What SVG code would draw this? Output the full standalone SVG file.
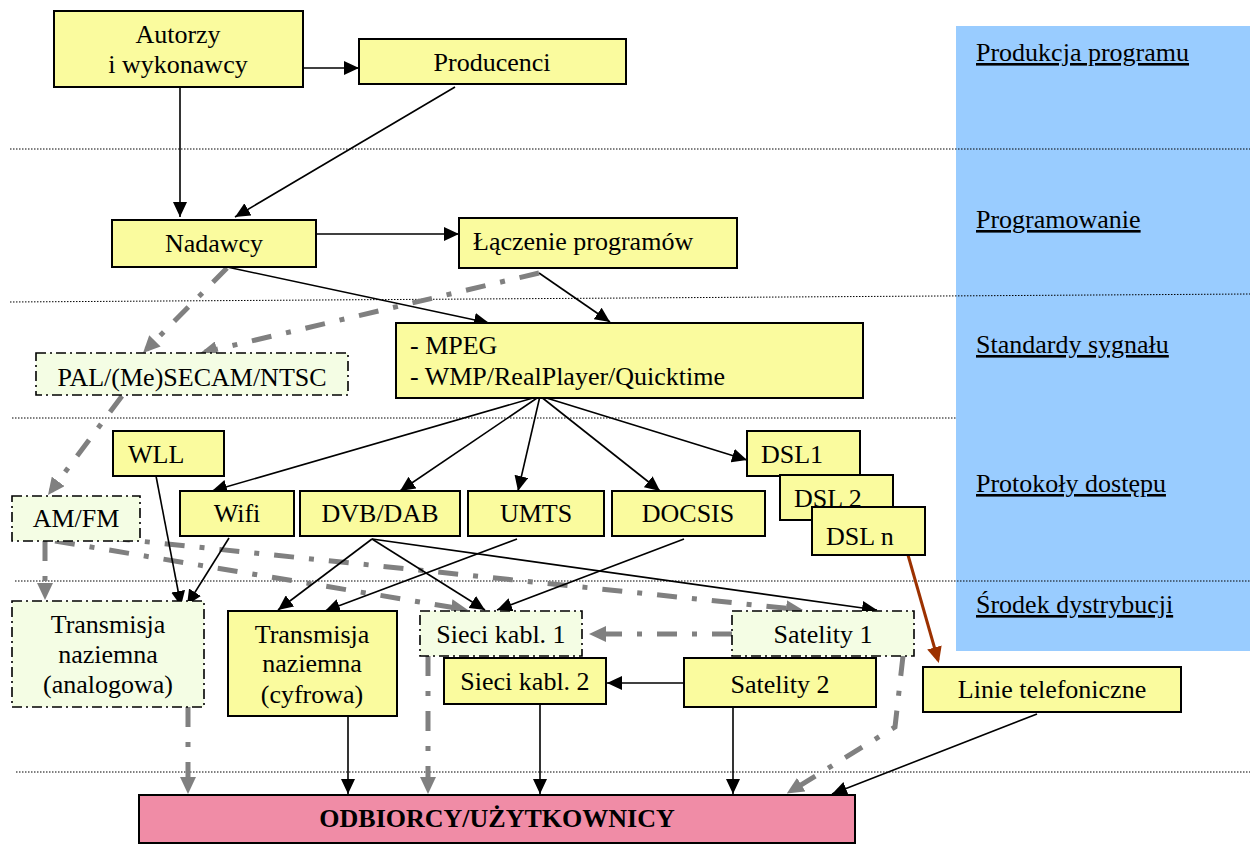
<svg xmlns="http://www.w3.org/2000/svg" width="1250" height="844" viewBox="0 0 1250 844">
<defs>
<marker id="ab" markerUnits="userSpaceOnUse" markerWidth="15" markerHeight="14" refX="15" refY="7" orient="auto"><path d="M0,0 L15,7 L0,14 z" fill="#000"/></marker>
<marker id="ag" markerUnits="userSpaceOnUse" markerWidth="17" markerHeight="16" refX="12" refY="8" orient="auto"><path d="M0,0 L17,8 L0,16 z" fill="#808080"/></marker>
<marker id="ar" markerUnits="userSpaceOnUse" markerWidth="16" markerHeight="15" refX="13" refY="7.5" orient="auto"><path d="M0,0 L16,7.5 L0,15 z" fill="#9C3100"/></marker>
</defs>
<style>
text{font-family:"Liberation Serif","Times New Roman",serif;font-size:26px;fill:#000}
.m{text-anchor:middle}
.y{fill:#FAFB9E;stroke:#000;stroke-width:2}
.g{fill:#F4FDE4;stroke:#000;stroke-width:1.6;stroke-dasharray:10 4 2 4}
.dot{stroke:#000;stroke-width:1;stroke-dasharray:1.5 1.5;fill:none}
.c{stroke:#000;stroke-width:1.6;fill:none;marker-end:url(#ab)}
.cg{stroke:#808080;stroke-width:5;fill:none;stroke-dasharray:20 15 5 15;marker-end:url(#ag)}
.lab{text-decoration:underline}
</style>
<rect width="1250" height="844" fill="#fff"/>
<g id="panel">
<rect x="956" y="26" width="294" height="625" fill="#99CCFF"/>
<text class="lab" x="976" y="61">Produkcja programu</text>
<text class="lab" x="976" y="228">Programowanie</text>
<text class="lab" x="976" y="353">Standardy sygnału</text>
<text class="lab" x="976" y="492">Protokoły dostępu</text>
<text class="lab" x="976" y="613">Środek dystrybucji</text>
</g>
<g id="grid">
<line class="dot" x1="10" y1="149" x2="1250" y2="149"/>
<line class="dot" x1="10" y1="302" x2="1250" y2="294"/>
<line class="dot" x1="12" y1="418" x2="956" y2="418"/>
<line class="dot" x1="15" y1="581" x2="1250" y2="581"/>
<line class="dot" x1="16" y1="772" x2="1250" y2="772"/>
</g>
<g id="connectors">
<line class="c" x1="303" y1="68" x2="359" y2="68"/>
<line class="c" x1="180" y1="82" x2="180" y2="217"/>
<line class="c" x1="455" y1="87" x2="235" y2="217"/>
<line class="c" x1="316" y1="234" x2="459" y2="234"/>
<line class="c" x1="227" y1="267" x2="489" y2="323"/>
<line class="c" x1="539" y1="273" x2="610" y2="322"/>
<line class="cg" x1="539" y1="273" x2="205" y2="352"/>
<line class="cg" x1="227" y1="268" x2="146.5" y2="349.4"/>
<line class="cg" x1="122" y1="396" x2="51" y2="491"/>
<line class="cg" x1="45" y1="541" x2="45" y2="595"/>
<line class="cg" x1="55" y1="541" x2="463" y2="609.2"/>
<line class="cg" x1="110" y1="538" x2="798" y2="609.5"/>
<line class="c" x1="540" y1="396" x2="212" y2="491"/>
<line class="c" x1="540" y1="396" x2="400" y2="491"/>
<line class="c" x1="540" y1="396" x2="518" y2="491"/>
<line class="c" x1="540" y1="396" x2="660" y2="491"/>
<line class="c" x1="540" y1="396" x2="747" y2="460"/>
<line class="c" x1="156" y1="476" x2="181" y2="606"/>
<line class="c" x1="229" y1="538" x2="187" y2="605"/>
<line class="c" x1="372" y1="539" x2="278" y2="610"/>
<line class="c" x1="517" y1="539" x2="325" y2="611"/>
<line class="c" x1="372" y1="539" x2="485" y2="610"/>
<line class="c" x1="684" y1="539" x2="497" y2="610"/>
<line class="c" x1="372" y1="539" x2="877" y2="610"/>
<line x1="908" y1="555" x2="938" y2="660" stroke="#9C3100" stroke-width="3" marker-end="url(#ar)"/>
<line class="cg" x1="732" y1="634" x2="594" y2="634"/>
<line class="c" x1="684" y1="683" x2="607" y2="683"/>
<line class="cg" x1="188" y1="707" x2="188" y2="789"/>
<line class="cg" x1="428" y1="656" x2="428" y2="789"/>
<path class="cg" d="M903,656 L895,727 L791,791"/>
<line class="c" x1="348" y1="716" x2="348" y2="794"/>
<line class="c" x1="540" y1="704" x2="540" y2="794"/>
<line class="c" x1="733" y1="707" x2="733" y2="794"/>
<line class="c" x1="1037" y1="714" x2="832" y2="794"/>
</g>
<g id="autorzy"><rect class="y" x="54" y="11" width="249" height="76"/><text class="m" x="178" y="43">Autorzy</text><text class="m" x="178" y="73">i wykonawcy</text></g>
<g id="producenci"><rect class="y" x="359" y="39" width="267" height="45"/><text class="m" x="492" y="71">Producenci</text></g>
<g id="nadawcy"><rect class="y" x="112" y="220" width="204" height="47"/><text class="m" x="214" y="252">Nadawcy</text></g>
<g id="laczenie"><rect class="y" x="459" y="218" width="278" height="50"/><text x="473" y="250">Łączenie programów</text></g>
<g id="mpeg"><rect class="y" x="396" y="323" width="467" height="75"/><text x="410" y="354">- MPEG</text><text x="410" y="385">- WMP/RealPlayer/Quicktime</text></g>
<g id="pal"><rect class="g" x="36" y="353" width="312" height="42"/><text class="m" x="192" y="386">PAL/(Me)SECAM/NTSC</text></g>
<g id="amfm"><rect class="g" x="12" y="496" width="128" height="45"/><text class="m" x="76" y="527">AM/FM</text></g>
<g id="wll"><rect class="y" x="113" y="431" width="111" height="45"/><text x="128" y="463">WLL</text></g>
<g id="wifi"><rect class="y" x="180" y="491" width="114" height="45"/><text class="m" x="237" y="522">Wifi</text></g>
<g id="dvb"><rect class="y" x="300" y="491" width="160" height="45"/><text class="m" x="380" y="522">DVB/DAB</text></g>
<g id="umts"><rect class="y" x="468" y="491" width="136" height="45"/><text class="m" x="536" y="522">UMTS</text></g>
<g id="docsis"><rect class="y" x="612" y="491" width="153" height="45"/><text class="m" x="688" y="522">DOCSIS</text></g>
<g id="dsl1"><rect class="y" x="747" y="431" width="113" height="45"/><text x="761" y="463">DSL1</text></g>
<g id="dsl2"><rect class="y" x="780" y="475" width="113" height="45"/><text x="794" y="507">DSL 2</text></g>
<g id="dsln"><rect class="y" x="812" y="507" width="113" height="48"/><text x="826" y="545">DSL n</text></g>
<g id="tr-analog"><rect class="g" x="12" y="601" width="192" height="106"/><text class="m" x="108" y="633">Transmisja</text><text class="m" x="108" y="663">naziemna</text><text class="m" x="108" y="693">(analogowa)</text></g>
<g id="tr-cyfrowa"><rect class="y" x="228" y="611" width="169" height="105"/><text class="m" x="312" y="643">Transmisja</text><text class="m" x="312" y="672">naziemna</text><text class="m" x="312" y="703">(cyfrowa)</text></g>
<g id="sieci1"><rect class="g" x="420" y="611" width="162" height="45"/><text class="m" x="501" y="643">Sieci kabl. 1</text></g>
<g id="satelity1"><rect class="g" x="732" y="611" width="182" height="45"/><text class="m" x="823" y="643">Satelity 1</text></g>
<g id="sieci2"><rect class="y" x="444" y="658" width="162" height="46"/><text class="m" x="525" y="690">Sieci kabl. 2</text></g>
<g id="satelity2"><rect class="y" x="684" y="658" width="192" height="49"/><text class="m" x="780" y="693">Satelity 2</text></g>
<g id="linie"><rect class="y" x="923" y="667" width="258" height="45"/><text class="m" x="1052" y="698">Linie telefoniczne</text></g>
<g id="odbiorcy"><rect x="139" y="795" width="716" height="48" fill="#F08CA6" stroke="#000" stroke-width="2"/><text class="m" x="497" y="827" font-weight="bold">ODBIORCY/UŻYTKOWNICY</text></g>
</svg>
